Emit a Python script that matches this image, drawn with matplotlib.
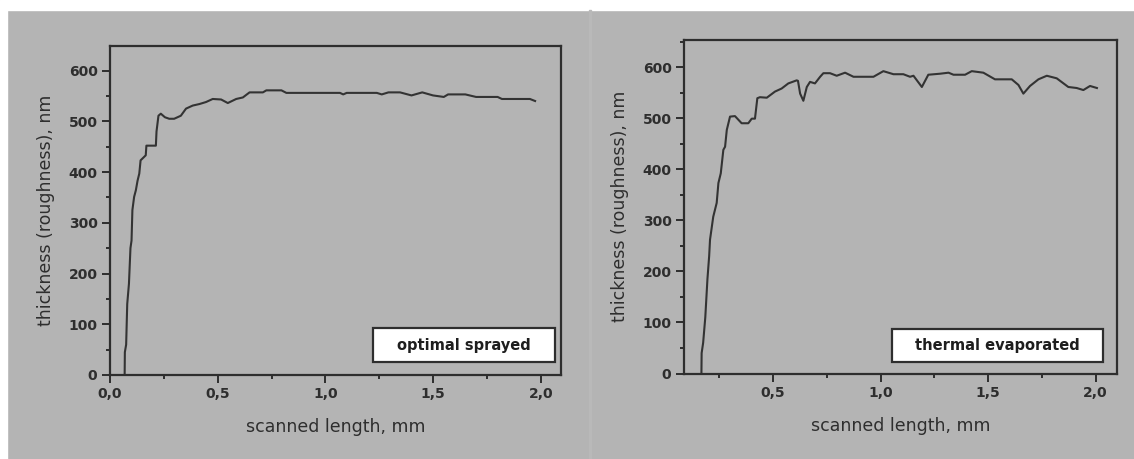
import numpy as np
import matplotlib
matplotlib.use('Agg')
import matplotlib.pyplot as plt
from matplotlib.patches import Rectangle
from matplotlib.ticker import MultipleLocator, FuncFormatter

# optimal sprayed profile (mm, nm)
x_spray = [0.068, 0.069, 0.075, 0.080, 0.088, 0.095, 0.100, 0.104, 0.112, 0.120,
           0.128, 0.136, 0.142, 0.166, 0.169, 0.213, 0.216, 0.225, 0.236, 0.255,
           0.275, 0.298, 0.329, 0.353, 0.384, 0.415, 0.446, 0.477, 0.516, 0.547,
           0.586, 0.617, 0.648, 0.710, 0.726, 0.796, 0.819, 1.068, 1.083, 1.099,
           1.239, 1.262, 1.293, 1.347, 1.40, 1.45, 1.50, 1.55, 1.57, 1.65,
           1.70, 1.80, 1.82, 1.90, 1.95, 1.974]
y_spray = [0, 45, 60, 140, 180, 250, 265, 325, 351, 364,
           383, 397, 423, 433, 452, 452, 480, 511, 515, 508,
           505, 505, 511, 525, 531, 534, 538, 544, 543, 536,
           544, 547, 557, 557, 561, 561, 556, 556, 553, 556,
           556, 553, 557, 557, 551, 557, 551, 548, 553, 553,
           548, 548, 544, 544, 544, 540]

# thermal evaporated profile (mm, nm)
x_therm = [0.167, 0.168, 0.175, 0.185, 0.195, 0.203, 0.207, 0.222, 0.238, 0.246,
           0.257, 0.269, 0.277, 0.285, 0.300, 0.323, 0.354, 0.385, 0.401, 0.416,
           0.427, 0.439, 0.471, 0.509, 0.540, 0.571, 0.610, 0.616, 0.626, 0.641,
           0.657, 0.672, 0.695, 0.719, 0.734, 0.765, 0.796, 0.835, 0.874, 0.967,
           1.013, 1.060, 1.106, 1.137, 1.153, 1.192, 1.222, 1.277, 1.316, 1.339,
           1.393, 1.424, 1.478, 1.532, 1.610, 1.641, 1.664, 1.695, 1.734, 1.773,
           1.819, 1.873, 1.912, 1.943, 1.974, 2.006]
y_therm = [0, 40, 60, 110, 185, 230, 262, 307, 334, 373,
           392, 438, 444, 477, 503, 504, 490, 490, 499, 499,
           539, 541, 540, 552, 558, 568, 574, 573, 548, 534,
           561, 571, 568, 581, 588, 588, 583, 589, 581, 581,
           592, 586, 586, 581, 583, 561, 585, 587, 589, 585,
           585, 592, 589, 576, 576, 565, 548, 563, 576, 583,
           578, 561, 559, 555, 563, 559]

labels = ['optimal sprayed', 'thermal evaporated']
xlabel = 'scanned length, mm'
ylabel = 'thickness (roughness), nm'

bg = '#b4b4b4'
ink = '#2e2e2e'
W, H = 1134, 459

fig = plt.figure(figsize=(W / 100, H / 100), dpi=100)
fig.patch.set_facecolor(bg)
# white frame on top and left, faint divider between panels
fig.patches.append(Rectangle((0, 1 - 10 / H), 1, 10 / H, transform=fig.transFigure,
                             color='white', zorder=0))
fig.patches.append(Rectangle((0, 0), 7 / W, 1, transform=fig.transFigure,
                             color='white', zorder=0))
fig.patches.append(Rectangle((589 / W, 0), 1.5 / W, 1 - 10 / H, transform=fig.transFigure,
                             color='#b9b9b9', zorder=0))

comma = FuncFormatter(lambda v, p: f'{v:.1f}'.replace('.', ','))

ax1 = fig.add_axes([110 / W, (H - 375) / H, 450.5 / W, 329.3 / H])
ax2 = fig.add_axes([684 / W, (H - 373.5) / H, 432.7 / W, 333.5 / H])

setups = [
    (ax1, x_spray, y_spray, (0, 2.092), (0, 649), labels[0], (0.584, 0.0395, 0.404, 0.103)),
    (ax2, x_therm, y_therm, (0.086, 2.098), (0, 653), labels[1], (0.481, 0.0345, 0.487, 0.099)),
]

for ax, xs, ys, xl, yl, lab, box in setups:
    ax.set_facecolor(bg)
    ax.plot(xs, ys, color='#333333', lw=1.5)
    ax.set_xlim(*xl)
    ax.set_ylim(*yl)
    for s in ax.spines.values():
        s.set_color(ink)
        s.set_linewidth(1.6)
    ax.xaxis.set_major_locator(MultipleLocator(0.5))
    ax.xaxis.set_minor_locator(MultipleLocator(0.25))
    ax.yaxis.set_major_locator(MultipleLocator(100))
    ax.yaxis.set_minor_locator(MultipleLocator(50))
    ax.xaxis.set_major_formatter(comma)
    ax.tick_params(which='major', direction='out', length=6, width=1.4,
                   color=ink, labelcolor=ink, labelsize=10, pad=3)
    ax.tick_params(which='minor', direction='out', length=3, width=1.4, color=ink)
    for t in ax.get_xticklabels() + ax.get_yticklabels():
        t.set_fontweight('bold')
    ax.set_xlabel(xlabel, fontsize=12.5, color=ink, labelpad=12)
    ax.set_ylabel(ylabel, fontsize=12.5, color=ink, labelpad=10)
    bx, by, bw, bh = box
    ax.add_patch(Rectangle((bx, by), bw, bh, transform=ax.transAxes,
                           facecolor='white', edgecolor=ink, lw=1.6, zorder=5))
    ax.text(bx + bw / 2, by + bh / 2, lab, transform=ax.transAxes, ha='center',
            va='center', fontsize=10.5, fontweight='bold', color='#1e1e1e', zorder=6)

fig.savefig('out.png', dpi=100, facecolor=fig.get_facecolor())
